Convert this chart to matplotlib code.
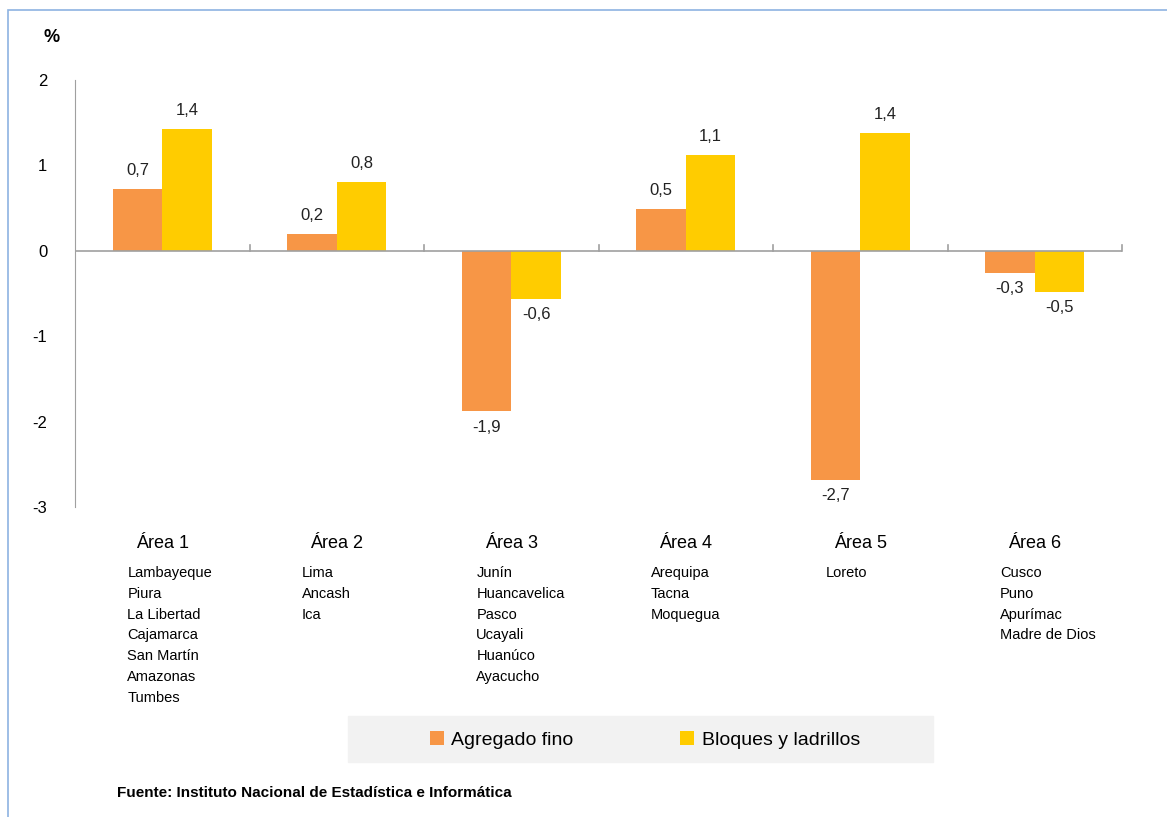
import numpy as np
import matplotlib
matplotlib.use("Agg")
import matplotlib.pyplot as plt
from matplotlib.patches import Rectangle
import matplotlib.transforms as mtransforms

areas = ["Área 1", "Área 2", "Área 3", "Área 4", "Área 5", "Área 6"]
departamentos = [
    ["Lambayeque", "Piura", "La Libertad", "Cajamarca", "San Martín", "Amazonas", "Tumbes"],
    ["Lima", "Ancash", "Ica"],
    ["Junín", "Huancavelica", "Pasco", "Ucayali", "Huanúco", "Ayacucho"],
    ["Arequipa", "Tacna", "Moquegua"],
    ["Loreto"],
    ["Cusco", "Puno", "Apurímac", "Madre de Dios"],
]
agregado_fino = [0.72, 0.20, -1.88, 0.49, -2.68, -0.26]
bloques_ladrillos = [1.43, 0.80, -0.56, 1.12, 1.38, -0.48]
series_names = ["Agregado fino", "Bloques y ladrillos"]
colors = ["#F79646", "#FFCC00"]
yticks = [2, 1, 0, -1, -2, -3]

plt.rcParams["font.family"] = ["Liberation Sans", "DejaVu Sans"]

W, H = 1167, 817
fig = plt.figure(figsize=(W / 100, H / 100), dpi=100)
fig.patches.append(Rectangle((8 / W, -0.1), 1.2, 1.1 - 10 / H, transform=fig.transFigure,
                             fill=False, ec="#8DB3E2", lw=1.2))

ax = fig.add_axes([75 / W, 1 - 507 / H, (1122 - 75) / W, (507 - 80) / H])
x = np.arange(len(areas))
bw = 0.285
ax.bar(x - bw / 2, agregado_fino, width=bw, color=colors[0], label=series_names[0])
ax.bar(x + bw / 2, bloques_ladrillos, width=bw, color=colors[1], label=series_names[1])

def fmt(v):
    return f"{v:.1f}".replace(".", ",")

for vals, off in [(agregado_fino, -bw / 2), (bloques_ladrillos, bw / 2)]:
    for xi, v in zip(x, vals):
        if v >= 0:
            ax.annotate(fmt(v), (xi + off, v), xytext=(0, 8), textcoords="offset points",
                        ha="center", va="bottom", fontsize=12, color="#222222")
        else:
            ax.annotate(fmt(v), (xi + off, v), xytext=(0, -6), textcoords="offset points",
                        ha="center", va="top", fontsize=12, color="#222222")

ax.set_xlim(-0.5, len(areas) - 0.5)
ax.set_ylim(-3, 2)
ax.set_yticks(yticks)
ax.set_yticklabels([str(t) for t in yticks], fontsize=12)
ax.tick_params(axis="y", length=0, pad=20)
ax.set_xticks([])
for s in ["top", "right", "bottom"]:
    ax.spines[s].set_visible(False)
ax.spines["left"].set_color("#A0A0A0")
ax.axhline(0, color="#A0A0A0", lw=1.2)
for b in np.arange(0.5, len(areas), 1.0):
    ax.plot([b, b], [0, 0.07], color="#A0A0A0", lw=1.2, clip_on=False)

trans = mtransforms.blended_transform_factory(ax.transData, fig.transFigure)
for xi, name, deps in zip(x, areas, departamentos):
    ax.text(xi, 1 - 544 / H, name, transform=trans, ha="center", va="center", fontsize=13)
    ax.text(xi - 0.2, 1 - 566 / H, "\n".join(deps), transform=trans, ha="left", va="top",
            fontsize=10.5, linespacing=1.62)

fig.patches.append(Rectangle((348 / W, 1 - 762 / H), (933 - 348) / W, 46 / H,
                             transform=fig.transFigure, color="#F2F2F2", zorder=0))
leg = fig.legend(loc="center", bbox_to_anchor=(645 / W, 1 - 740 / H), ncol=2, frameon=False,
                 fontsize=14, handlelength=0.7, handleheight=0.7, handletextpad=0.4,
                 columnspacing=5.5)

fig.text(43 / W, 1 - 37 / H, "%", fontsize=13, fontweight="bold", va="center")
fig.text(117 / W, 1 - 793 / H, "Fuente: Instituto Nacional de Estadística e Informática",
         fontsize=11, fontweight="bold", va="center")

fig.savefig("out.png", dpi=100)
